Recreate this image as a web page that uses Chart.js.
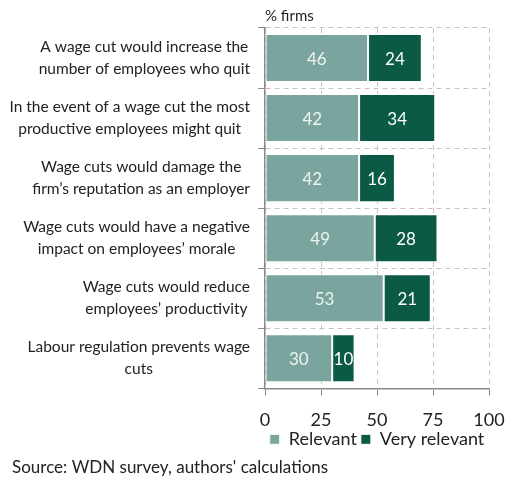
<!DOCTYPE html>
<html>
<head>
<meta charset="utf-8">
<script src="https://cdn.jsdelivr.net/npm/chart.js@4.4.1/dist/chart.umd.min.js"></script>
<style>
  html, body { margin: 0; padding: 0; background: #fff; }
  #wrap { width: 505px; height: 477px; }
</style>
</head>
<body>
<div id="wrap"><canvas id="wagecut-chart"></canvas></div>
<script>
const reasons = [
  ["A wage cut would increase the", "number of employees who quit"],
  ["In the event of a wage cut the most", "productive employees might quit"],
  ["Wage cuts would damage the", "firm\u2019s reputation as an employer"],
  ["Wage cuts would have a negative", "impact on employees\u2019 morale"],
  ["Wage cuts would reduce", "employees\u2019 productivity"],
  ["Labour regulation prevents wage", "cuts"]
];
const relevant = [46, 42, 42, 49, 53, 30];
const veryRelevant = [24, 34, 16, 28, 21, 10];
const xTicks = [0, 25, 50, 75, 100];

const FONT = "Lato, 'Noto Sans', sans-serif";

// y labels: block right-aligned, lines centred inside the block (like Excel)
const categoryLabels = {
  id: "categoryLabels",
  afterDraw(chart) {
    const ctx = chart.ctx;
    const yScale = chart.scales.y;
    const right = chart.chartArea.left - 15;
    ctx.save();
    ctx.font = "15.5px " + FONT;
    ctx.fillStyle = "#222";
    ctx.textAlign = "center";
    ctx.textBaseline = "middle";
    reasons.forEach((lines, i) => {
      const y = yScale.getPixelForTick(i);
      const widest = Math.max(...lines.map(l => ctx.measureText(l).width));
      const cx = right - widest / 2;
      const lh = 22;
      lines.forEach((l, j) => {
        ctx.fillText(l, cx, y + (j - (lines.length - 1) / 2) * lh);
      });
    });
    ctx.restore();
  }
};

// numbers in the middle of each bar segment
const barValues = {
  id: "barValues",
  afterDatasetsDraw(chart) {
    const ctx = chart.ctx;
    ctx.save();
    ctx.font = "17px " + FONT;
    ctx.textAlign = "center";
    ctx.textBaseline = "middle";
    chart.data.datasets.forEach((ds, d) => {
      const meta = chart.getDatasetMeta(d);
      ctx.fillStyle = d === 0 ? "#eef3f2" : "#ffffff";
      meta.data.forEach((bar, i) => {
        ctx.fillText(ds.data[i], (bar.x + bar.base) / 2, bar.y + 1);
      });
    });
    ctx.restore();
  }
};

new Chart("wagecut-chart", {
  type: "bar",
  data: {
    labels: reasons,
    datasets: [
      {
        label: "Relevant",
        data: relevant,
        backgroundColor: "#7aa59e",
        borderColor: "#ffffff",
        borderWidth: 1,
        borderSkipped: false
      },
      {
        label: "Very relevant",
        data: veryRelevant,
        backgroundColor: "#0b5a46",
        borderColor: "#ffffff",
        borderWidth: 1,
        borderSkipped: false
      }
    ]
  },
  options: {
    indexAxis: "y",
    responsive: true,
    maintainAspectRatio: false,
    animation: false,
    layout: { padding: { left: 12, right: 0, top: 0, bottom: 0 } },
    datasets: { bar: { barPercentage: 0.8, categoryPercentage: 1 } },
    scales: {
      x: {
        stacked: true,
        min: 0,
        max: 100,
        afterBuildTicks(scale) {
          scale.ticks = xTicks.map(v => ({ value: v }));
        },
        afterFit(scale) {
          scale.paddingRight = 16;
          scale.height = 38;
        },
        ticks: { font: { family: FONT, size: 18 }, color: "#222", padding: 14, maxRotation: 0 },
        grid: {
          color: "#c4c4c4",
          tickBorderDash: [],
          tickColor: "#8a8a8a",
          tickLength: 7
        },
        border: { display: true, color: "#8a8a8a", width: 1.5, dash: [5, 4] }
      },
      y: {
        stacked: true,
        afterFit(scale) { scale.width = 253; },
        ticks: { callback: () => "" },
        grid: {
          color: "#c4c4c4",
          tickBorderDash: [],
          tickColor: "#8a8a8a",
          tickLength: 7
        },
        border: { display: true, color: "#8a8a8a", width: 1.5, dash: [5, 4] }
      }
    },
    plugins: {
      legend: {
        position: "bottom",
        fullSize: false,
        labels: {
          boxWidth: 10,
          boxHeight: 10,
          padding: 4,
          color: "#222",
          font: { family: FONT, size: 18 }
        }
      },
      title: {
        display: true,
        text: "% firms",
        position: "top",
        align: "start",
        fullSize: false,
        color: "#222",
        font: { family: FONT, size: 15, weight: "normal" },
        padding: { top: 7, bottom: 3 }
      },
      subtitle: {
        display: true,
        text: "Source: WDN survey, authors' calculations",
        position: "bottom",
        align: "start",
        color: "#222",
        font: { family: FONT, size: 17, lineHeight: 1.1 },
        padding: { top: 0, bottom: 0 }
      },
      tooltip: { enabled: false }
    }
  },
  plugins: [categoryLabels, barValues]
});
</script>
</body>
</html>
